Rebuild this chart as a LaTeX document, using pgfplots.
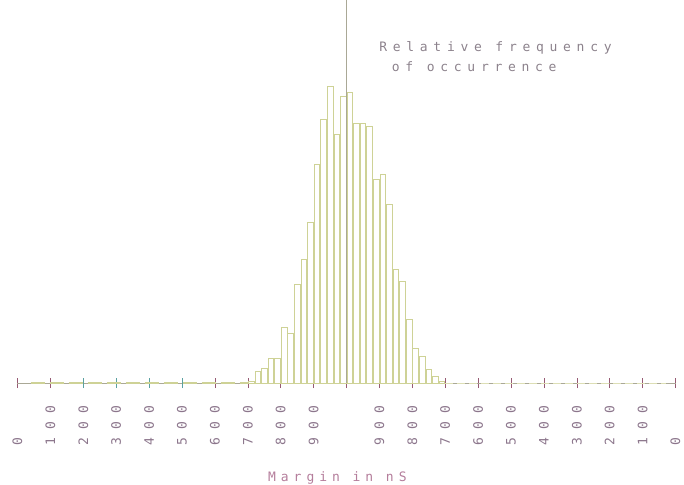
\documentclass[border=0pt]{standalone}
\usepackage{pgfplots}
\pgfplotsset{compat=1.18}
\usepackage{fontspec}
\newfontfamily\pf{DejaVu Sans Mono}
\newfontfamily\pfs{DejaVu Sans Mono}[LetterSpace=44]
\newfontfamily\pfm{DejaVu Sans Mono}[LetterSpace=38]
\definecolor{barc}{RGB}{206,210,150}
\definecolor{axc}{RGB}{170,168,150}
\definecolor{tickc}{RGB}{150,90,115}
\definecolor{tealc}{RGB}{90,160,160}
\definecolor{labc}{RGB}{140,118,140}
\definecolor{titc}{RGB}{140,130,140}
\definecolor{xlc}{RGB}{180,125,155}
\newcommand\dg[1]{\makebox[16pt]{#1}}
\newcommand\vl[1]{\rotatebox{90}{\makebox[48pt][l]{#1}}}
\pgfplotstableread{
x y
-3.0 2
-2.8 12
-2.6 15
-2.4 25
-2.2 25
-2.0 56
-1.8 50
-1.6 99
-1.4 124
-1.2 161
-1.0 219
-0.8 264
-0.6 297
-0.4 249
-0.2 287
0.0 291
0.2 260
0.4 260
0.6 257
0.8 204
1.0 209
1.2 179
1.4 114
1.6 102
1.8 64
2.0 35
2.2 27
2.4 14
2.6 7
2.8 2
3.0 0
}\bars
\begin{document}
\begin{tikzpicture}
\begin{axis}[
  scale only axis, width=658pt, height=383pt,
  xmin=-10, xmax=10, ymin=0, ymax=383,
  clip=false,
  axis x line=bottom, axis y line=none,
  x axis line style={-, draw=axc, line width=0.5pt},
  ytick=\empty,
  tick align=center, major tick length=10pt,
  major tick style={draw=tickc, line width=0.5pt},
  xtick={-10,-9,-4,-3,-2,-1,0,1,2,3,4,5,6,7,8,9,10},
  xticklabels={{\vl{\dg0}},{\vl{\dg1\dg0\dg0}},{\vl{\dg6\dg0\dg0}},{\vl{\dg7\dg0\dg0}},{\vl{\dg8\dg0\dg0}},{\vl{\dg9\dg0\dg0}},{},
    {\vl{\dg9\dg0\dg0}},{\vl{\dg8\dg0\dg0}},{\vl{\dg7\dg0\dg0}},{\vl{\dg6\dg0\dg0}},{\vl{\dg5\dg0\dg0}},{\vl{\dg4\dg0\dg0}},{\vl{\dg3\dg0\dg0}},{\vl{\dg2\dg0\dg0}},{\vl{\dg1\dg0\dg0}},{\vl{\dg0}}},
  extra x ticks={-8,-7,-6,-5},
  extra x tick labels={{\vl{\dg2\dg0\dg0}},{\vl{\dg3\dg0\dg0}},{\vl{\dg4\dg0\dg0}},{\vl{\dg5\dg0\dg0}}},
  extra x tick style={major tick style={draw=tealc}},
  xticklabel style={font=\pf\fontsize{13}{13}\selectfont, text=labc, anchor=north, inner sep=0pt, yshift=-13pt},
]
\addplot[draw=barc, line width=1.2pt, dash pattern=on 14pt off 5pt] coordinates {(-9.6,0) (-3,0)};
\addplot[draw=barc!70, line width=0.8pt, dash pattern=on 8pt off 4pt] coordinates {(3,0) (9.7,0)};
\addplot[ybar interval, bar interval width=0.86, draw=barc, fill=white, line width=0.6pt] table[x=x,y=y] {\bars};
\addplot[draw=axc, line width=0.5pt] coordinates {(0,0) (0,383)};
\node[anchor=base west, inner sep=0pt, font=\pfs\fontsize{13}{13}\selectfont, text=titc] at (axis cs:0.99,331.5) {Relative frequency};
\node[anchor=base west, inner sep=0pt, font=\pfs\fontsize{13}{13}\selectfont, text=titc] at (axis cs:1.374,311.3) {of occurrence};
\node[anchor=base west, inner sep=0pt, font=\pfm\fontsize{13}{13}\selectfont, text=xlc] at (axis cs:-2.386,-98.5) {Margin in nS};
\end{axis}
\pgfresetboundingbox
\path[use as bounding box] ([shift={(-17.5pt,-101pt)}]current axis.south west) rectangle ([shift={(8.5pt,0pt)}]current axis.north east);
\end{tikzpicture}
\end{document}
